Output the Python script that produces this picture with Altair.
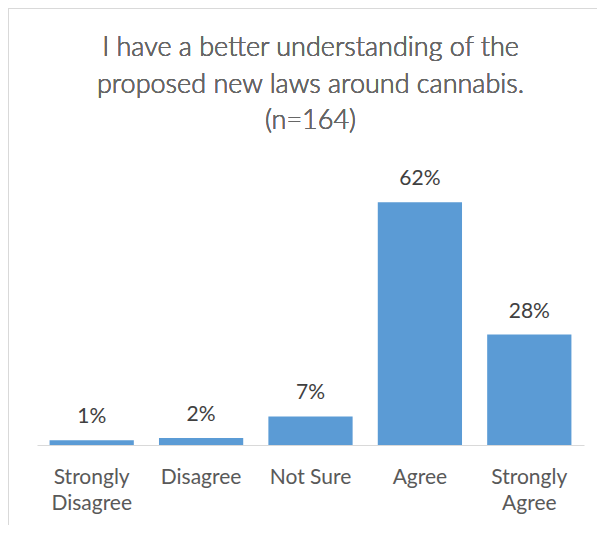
import altair as alt
import pandas as pd

categories = ["Strongly Disagree", "Disagree", "Not Sure", "Agree", "Strongly Agree"]
values = [1.2, 1.8, 7.3, 62.0, 28.2]
labels = ["1%", "2%", "7%", "62%", "28%"]
title_lines = ["I have a better understanding of the", "proposed new laws around cannabis.", "(n=164)"]

df = pd.DataFrame({"cat": categories, "val": values, "lab": labels})

FONT = "Lato"

x = alt.X("cat:N", sort=categories, title=None,
          scale=alt.Scale(paddingInner=0.23, paddingOuter=0.115),
          axis=alt.Axis(labelAngle=0, ticks=False, domainColor="#d9d9d9", domainWidth=1,
                        labelFont=FONT, labelFontSize=21, labelColor="#595959",
                        labelPadding=21, labelLineHeight=26,
                        labelExpr="datum.label == 'Not Sure' ? datum.label : split(datum.label, ' ')"))
y = alt.Y("val:Q", scale=alt.Scale(domain=[0, 70]), axis=None)

bars = alt.Chart(df).mark_bar(color="#5B9BD5").encode(x=x, y=y)
text = alt.Chart(df).mark_text(font=FONT, fontSize=21, color="#404040", baseline="alphabetic", dy=-17).encode(
    x=alt.X("cat:N", sort=categories), y="val:Q", text="lab:N")

border_top = alt.Chart(df).mark_rule(color="#d9d9d9", strokeWidth=1.5).encode(
    x=alt.value(-29), x2=alt.value(580), y=alt.value(-163))
border_left = alt.Chart(df).mark_rule(color="#d9d9d9", strokeWidth=1.5).encode(
    x=alt.value(-29), y=alt.value(-163), y2=alt.value(360))

title_y = [-123, -86, -50]
title_layers = [
    alt.Chart(df).mark_text(font=FONT, fontSize=27, fontWeight=300, color="#666666",
                            baseline="middle", align="center").encode(
        x=alt.value(273.5), y=alt.value(ty), text=alt.value(line))
    for line, ty in zip(title_lines, title_y)
]

chart = alt.layer(border_top, border_left, bars, text, *title_layers).properties(
    width=547, height=274,
    background="white",
    padding={"left": 29, "top": 163, "right": 13, "bottom": 80},
    autosize=alt.AutoSizeParams(type="none"),
).configure_view(stroke="transparent", strokeWidth=0)

chart.save("out.html", embed_options={"renderer": "svg", "actions": False})
